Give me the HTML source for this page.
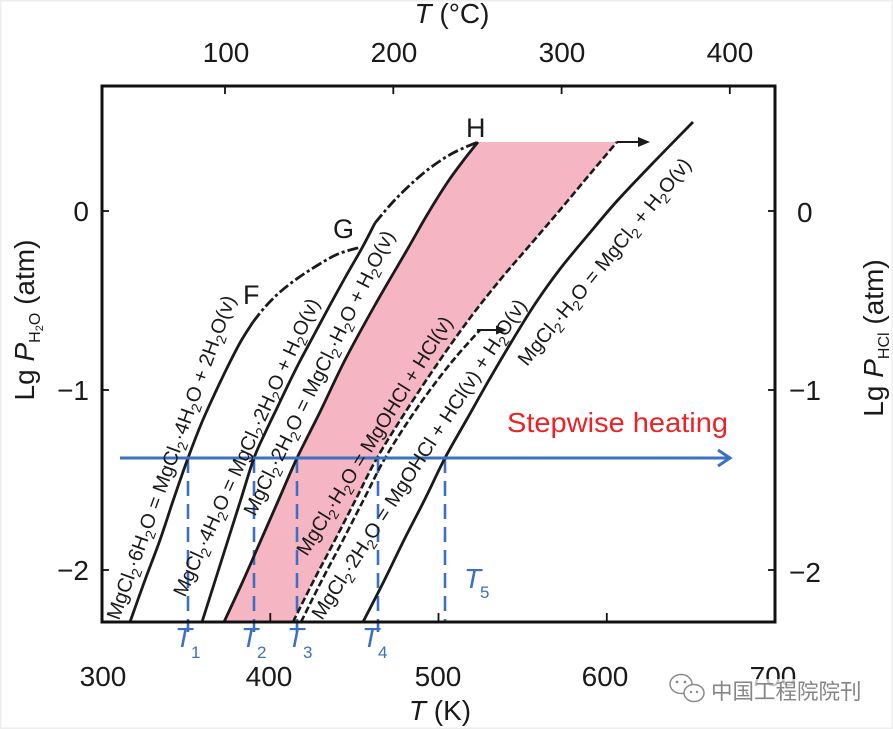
<!DOCTYPE html>
<html><head><meta charset="utf-8">
<style>
html,body{margin:0;padding:0;background:#fff;}
svg{display:block;}
text{font-family:"Liberation Sans","Noto Sans CJK SC",sans-serif;}
.lab{font-size:20px;fill:#1a1a1a;}
.s{font-size:14px;}
</style></head>
<body>
<svg id="chart" width="893" height="729" viewBox="0 0 893 729" xmlns="http://www.w3.org/2000/svg">
<rect x="0" y="0" width="893" height="729" fill="#fff"/>
<rect x="0.5" y="0.5" width="892" height="728" fill="none" stroke="#eeeeee" stroke-width="2"/>

<!-- pink region -->
<polygon class="smpoly" fill="#f6b5c3" points="224,622 243,581 261,540 279,499 297,458 320,412 345,360 375,305 407,250 427,215 447,183 463,161 478,142 617,142 590,174 560,210 530,245 500,280 470,318 440,360 408,408 377,458 356,499 335,540 314,580 293,622"/>

<!-- blue dashed verticals -->
<g stroke="#3b70c2" stroke-width="2.6" stroke-dasharray="15 8" fill="none">
<line x1="188" y1="458" x2="188" y2="632"/>
<line x1="254" y1="458" x2="254" y2="632"/>
<line x1="297" y1="458" x2="297" y2="632"/>
<line x1="378" y1="458" x2="378" y2="632"/>
<line x1="445" y1="458" x2="445" y2="622"/>
</g>

<!-- curves -->
<g fill="none" stroke="#1a1a1a" stroke-width="2.8" stroke-linejoin="round" stroke-linecap="butt">
<polyline class="sm" points="130,622 145,580 160,540 174,498 188,458 202,422 216,391 229,364 241,341 253,322"/>
<polyline class="sm" stroke-dasharray="11 3 3 3" points="253,322 265,307 280,292 298,278 318,265 338,254 361,247"/>
<polyline class="sm" points="202,622 215,581 228,540 241,499 254,458 266,431 278,406 289,383 300,361 315,333 330,305 346,276 362,248 375,223"/>
<polyline class="sm" stroke-dasharray="11 3 3 3" points="375,223 392,203 410,185 430,168 453,153 478,142"/>
<polyline class="sm" points="224,622 243,581 261,540 279,499 297,458 320,412 345,360 375,305 407,250 427,215 447,183 463,161 478,142"/>
<polyline class="sm" stroke-dasharray="7 3" stroke-width="2.6" points="293,622 314,580 335,540 356,499 377,458 408,408 440,360 470,318 500,280 530,245 560,210 590,174 617,142"/>
<polyline class="sm" stroke-dasharray="7 3" stroke-width="2.6" points="301,622 322,580 343,540 364,499 384,460 407,423 430,390 455,358 480,330"/>
<polyline class="sm" points="363,622 384,581 404,540 425,499 445,458 467,419 489,380 512,341 535,304 560,269 588,235 617,201 652,164 693,122"/>
</g>

<!-- black arrows -->
<line x1="617" y1="142" x2="641" y2="142" stroke="#1a1a1a" stroke-width="2"/>
<polygon points="638,137 650,142 638,147" fill="#1a1a1a"/>
<line x1="477" y1="330" x2="498" y2="330" stroke="#1a1a1a" stroke-width="2"/>
<polygon points="496,325.5 507,330 496,334.5" fill="#1a1a1a"/>

<!-- blue horizontal arrow -->
<line x1="120" y1="458" x2="729" y2="458" stroke="#3b70c2" stroke-width="3"/>
<polyline points="718,450 730,458 718,466" fill="none" stroke="#3b70c2" stroke-width="3"/>

<!-- frame -->
<rect x="102" y="86" width="673" height="536" fill="none" stroke="#111" stroke-width="3"/>
<g stroke="#111" stroke-width="1.8">
<line x1="225" y1="87" x2="225" y2="94"/>
<line x1="393.3" y1="87" x2="393.3" y2="94"/>
<line x1="561.6" y1="87" x2="561.6" y2="94"/>
<line x1="729.8" y1="87" x2="729.8" y2="94"/>
<line x1="270.3" y1="621" x2="270.3" y2="613"/>
<line x1="438.5" y1="621" x2="438.5" y2="613"/>
<line x1="606.8" y1="621" x2="606.8" y2="613"/>
<line x1="103" y1="211" x2="109" y2="211"/>
<line x1="103" y1="390" x2="109" y2="390"/>
<line x1="103" y1="570" x2="109" y2="570"/>
<line x1="774" y1="211" x2="768" y2="211"/>
<line x1="774" y1="390" x2="768" y2="390"/>
<line x1="774" y1="570" x2="768" y2="570"/>
</g>

<!-- rotated reaction labels -->
<text class="lab" transform="translate(119,621) rotate(-70.09)" textLength="343" lengthAdjust="spacingAndGlyphs">MgCl<tspan class="s" dy="5">2</tspan><tspan dy="-5">·6H</tspan><tspan class="s" dy="5">2</tspan><tspan dy="-5">O = MgCl</tspan><tspan class="s" dy="5">2</tspan><tspan dy="-5">·4H</tspan><tspan class="s" dy="5">2</tspan><tspan dy="-5">O + 2H</tspan><tspan class="s" dy="5">2</tspan><tspan dy="-5">O(v)</tspan></text>

<text class="lab" transform="translate(185,598) rotate(-65.48)" textLength="325" lengthAdjust="spacingAndGlyphs">MgCl<tspan class="s" dy="5">2</tspan><tspan dy="-5">·4H</tspan><tspan class="s" dy="5">2</tspan><tspan dy="-5">O = MgCl</tspan><tspan class="s" dy="5">2</tspan><tspan dy="-5">·2H</tspan><tspan class="s" dy="5">2</tspan><tspan dy="-5">O + H</tspan><tspan class="s" dy="5">2</tspan><tspan dy="-5">O(v)</tspan></text>

<text class="lab" transform="translate(255,517) rotate(-63.6)" textLength="315" lengthAdjust="spacingAndGlyphs">MgCl<tspan class="s" dy="5">2</tspan><tspan dy="-5">·2H</tspan><tspan class="s" dy="5">2</tspan><tspan dy="-5">O = MgCl</tspan><tspan class="s" dy="5">2</tspan><tspan dy="-5">·H</tspan><tspan class="s" dy="5">2</tspan><tspan dy="-5">O + H</tspan><tspan class="s" dy="5">2</tspan><tspan dy="-5">O(v)</tspan></text>

<text class="lab" transform="translate(307,557) rotate(-58.15)" textLength="277" lengthAdjust="spacingAndGlyphs">MgCl<tspan class="s" dy="5">2</tspan><tspan dy="-5">·H</tspan><tspan class="s" dy="5">2</tspan><tspan dy="-5">O = MgOHCl + HCl(v)</tspan></text>

<text class="lab" transform="translate(322,621) rotate(-57.02)" textLength="377" lengthAdjust="spacingAndGlyphs">MgCl<tspan class="s" dy="5">2</tspan><tspan dy="-5">·2H</tspan><tspan class="s" dy="5">2</tspan><tspan dy="-5">O = MgOHCl + HCl(v) + H</tspan><tspan class="s" dy="5">2</tspan><tspan dy="-5">O(v)</tspan></text>

<text class="lab" transform="translate(527,367) rotate(-50.75)" textLength="261" lengthAdjust="spacingAndGlyphs">MgCl<tspan class="s" dy="5">2</tspan><tspan dy="-5">·H</tspan><tspan class="s" dy="5">2</tspan><tspan dy="-5">O = MgCl</tspan><tspan class="s" dy="5">2</tspan><tspan dy="-5"> + H</tspan><tspan class="s" dy="5">2</tspan><tspan dy="-5">O(v)</tspan></text>

<!-- point labels -->
<text x="243" y="304" font-size="27" fill="#1a1a1a">F</text>
<text x="333" y="238" font-size="27" fill="#1a1a1a">G</text>
<text x="466" y="137" font-size="27" fill="#1a1a1a">H</text>

<!-- stepwise heating -->
<text x="507" y="432" font-size="28" fill="#ec2226" textLength="221" lengthAdjust="spacingAndGlyphs">Stepwise heating</text>

<!-- T labels -->
<g fill="#3b70c2">
<text x="175" y="647" font-size="28" font-style="italic">T</text><text x="191" y="658" font-size="17">1</text>
<text x="241" y="647" font-size="28" font-style="italic">T</text><text x="257" y="658" font-size="17">2</text>
<text x="287" y="647" font-size="28" font-style="italic">T</text><text x="303" y="658" font-size="17">3</text>
<text x="362" y="647" font-size="28" font-style="italic">T</text><text x="378" y="658" font-size="17">4</text>
<text x="464" y="588" font-size="28" font-style="italic">T</text><text x="480" y="598" font-size="17">5</text>
</g>

<!-- axis tick labels -->
<g font-size="28" fill="#1a1a1a" text-anchor="middle">
<text x="226" y="62">100</text>
<text x="394" y="62">200</text>
<text x="562" y="62">300</text>
<text x="730" y="62">400</text>
<text x="103" y="686">300</text>
<text x="269" y="686">400</text>
<text x="438" y="686">500</text>
<text x="605" y="686">600</text>
<text x="773" y="686">700</text>
</g>
<g font-size="28" fill="#1a1a1a" text-anchor="end">
<text x="89" y="221">0</text>
<text x="89" y="400">−1</text>
<text x="89" y="580">−2</text>
</g>
<g font-size="28" fill="#1a1a1a">
<text x="797" y="222">0</text>
<text x="789" y="400">−1</text>
<text x="789" y="582">−2</text>
</g>

<!-- axis titles -->
<text x="452" y="23" font-size="28" fill="#1a1a1a" text-anchor="middle"><tspan font-style="italic">T</tspan> (°C)</text>
<text x="440" y="720" font-size="28" fill="#1a1a1a" text-anchor="middle"><tspan font-style="italic">T</tspan> (K)</text>
<text transform="translate(34,320) rotate(-90)" font-size="28" fill="#1a1a1a" text-anchor="middle">Lg <tspan font-style="italic">P</tspan><tspan font-size="16" dy="6">H</tspan><tspan font-size="11" dy="3">2</tspan><tspan font-size="16" dy="-3">O</tspan><tspan dy="-6"> (atm)</tspan></text>
<text transform="translate(883,338) rotate(-90)" font-size="28" fill="#1a1a1a" text-anchor="middle">Lg <tspan font-style="italic">P</tspan><tspan font-size="16" dy="6">HCl</tspan><tspan dy="-6"> (atm)</tspan></text>

<!-- watermark -->
<rect x="706" y="679" width="160" height="26" fill="#fff" opacity="0.75"/>
<g fill="none" stroke="#8a8a8a" stroke-width="1.5">
<ellipse cx="681" cy="684" rx="11" ry="9.5"/>
<ellipse cx="694" cy="693" rx="10" ry="8.5" fill="#fff"/>
</g>
<g fill="#8a8a8a">
<circle cx="677" cy="682" r="1.4"/><circle cx="685" cy="682" r="1.4"/>
<circle cx="691" cy="692" r="1.2"/><circle cx="697" cy="692" r="1.2"/>
</g>
<text x="711" y="699" font-size="21.5" fill="#858585" style="font-family:'Noto Sans CJK SC','WenQuanYi Zen Hei',sans-serif">中国工程院院刊</text>
</svg>
<script>
(function(){
  function pts(el){
    var a=el.getAttribute('points').trim().split(/\s+/).map(function(p){var q=p.split(',');return [parseFloat(q[0]),parseFloat(q[1])];});
    return a;
  }
  function cr(p){
    var d='M'+p[0][0]+','+p[0][1];
    for(var i=0;i<p.length-1;i++){
      var p0=p[i-1]||p[i],p1=p[i],p2=p[i+1],p3=p[i+2]||p[i+1];
      var c1=[p1[0]+(p2[0]-p0[0])/6,p1[1]+(p2[1]-p0[1])/6];
      var c2=[p2[0]-(p3[0]-p1[0])/6,p2[1]-(p3[1]-p1[1])/6];
      d+=' C'+c1[0].toFixed(2)+','+c1[1].toFixed(2)+' '+c2[0].toFixed(2)+','+c2[1].toFixed(2)+' '+p2[0]+','+p2[1];
    }
    return d;
  }
  var ns='http://www.w3.org/2000/svg';
  var list=document.querySelectorAll('polyline.sm');
  for(var k=0;k<list.length;k++){
    var el=list[k];var path=document.createElementNS(ns,'path');
    for(var j=0;j<el.attributes.length;j++){var at=el.attributes[j];if(at.name!=='points'&&at.name!=='class')path.setAttribute(at.name,at.value);}
    path.setAttribute('d',cr(pts(el)));
    el.parentNode.replaceChild(path,el);
  }
  var poly=document.querySelector('polygon.smpoly');
  if(poly){
    var p=pts(poly);
    var left=p.slice(0,13), right=p.slice(13);
    var d=cr(left)+' L'+right[0][0]+','+right[0][1]+cr(right).replace(/^M[^C]*/,' ')+' Z';
    var path=document.createElementNS(ns,'path');
    path.setAttribute('d',d);path.setAttribute('fill',poly.getAttribute('fill'));
    poly.parentNode.replaceChild(path,poly);
  }
})();
</script>
</body></html>
